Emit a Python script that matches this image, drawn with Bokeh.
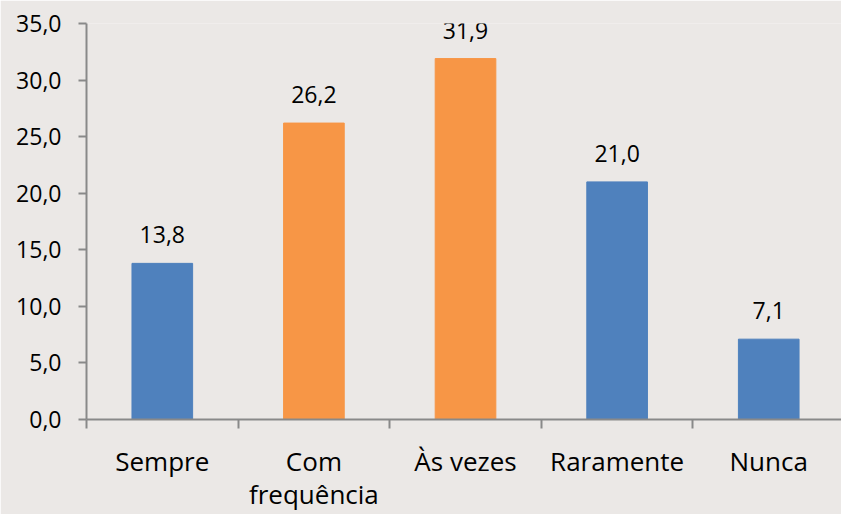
from bokeh.plotting import figure
from bokeh.models import Range1d, FixedTicker, ColumnDataSource, LabelSet
from bokeh.core.properties import value
from bokeh.embed import file_html
from bokeh.resources import INLINE

categories = ["Sempre", "Com\nfrequência", "Às vezes", "Raramente", "Nunca"]
values = [13.8, 26.2, 31.9, 21.0, 7.1]
colors = ["#4F81BD", "#F79646", "#F79646", "#4F81BD", "#4F81BD"]
y_ticks = [0, 5, 10, 15, 20, 25, 30, 35]

BG = "#EBE8E6"
AXIS = "#898989"
FONT = "Open Sans"

xs = [i + 0.5 for i in range(len(categories))]
labels = [f"{v:.1f}".replace(".", ",") for v in values]
src = ColumnDataSource(dict(x=xs, top=values, color=colors, label=labels))

p = figure(width=841, height=514, output_backend="svg", toolbar_location=None,
           x_range=Range1d(0, 4.98), y_range=Range1d(0, 35),
           min_border_left=86, min_border_top=23, min_border_bottom=95, min_border_right=0)
p.frame_width = 755
p.frame_height = 396
p.background_fill_color = BG
p.border_fill_color = BG
p.outline_line_color = None
p.grid.visible = False

p.vbar(x="x", top="top", width=0.4, bottom=0, color="color", source=src)

p.add_layout(LabelSet(x="x", y="top", text="label", source=src, text_align="center",
                      text_baseline="alphabetic", y_offset=20,
                      text_font=value(FONT), text_font_size="23px", text_color="#000000"))

xa = p.xaxis[0]
xa.ticker = FixedTicker(ticks=xs, minor_ticks=list(range(len(categories) + 1)))
xa.major_label_overrides = {x: c for x, c in zip(xs, categories)}
xa.major_tick_out = 0
xa.major_tick_in = 0
xa.minor_tick_out = 9
xa.minor_tick_in = 0
xa.minor_tick_line_color = AXIS
xa.minor_tick_line_width = 2
xa.axis_line_color = AXIS
xa.axis_line_width = 2
xa.major_label_text_font = FONT
xa.major_label_text_font_size = "26px"
xa.major_label_text_color = "#000000"
xa.major_label_text_line_height = 0.92
xa.major_label_standoff = 14

ya = p.yaxis[0]
ya.ticker = FixedTicker(ticks=y_ticks, minor_ticks=[])
ya.major_label_overrides = {t: f"{t:.1f}".replace(".", ",") for t in y_ticks}
ya.major_tick_out = 8
ya.major_tick_in = 0
ya.major_tick_line_color = AXIS
ya.major_tick_line_width = 2
ya.minor_tick_out = 0
ya.minor_tick_in = 0
ya.axis_line_color = AXIS
ya.axis_line_width = 2
ya.major_label_text_font = FONT
ya.major_label_text_font_size = "23px"
ya.major_label_text_color = "#000000"
ya.major_label_standoff = 17

open("out.html", "w").write(file_html(p, INLINE))
